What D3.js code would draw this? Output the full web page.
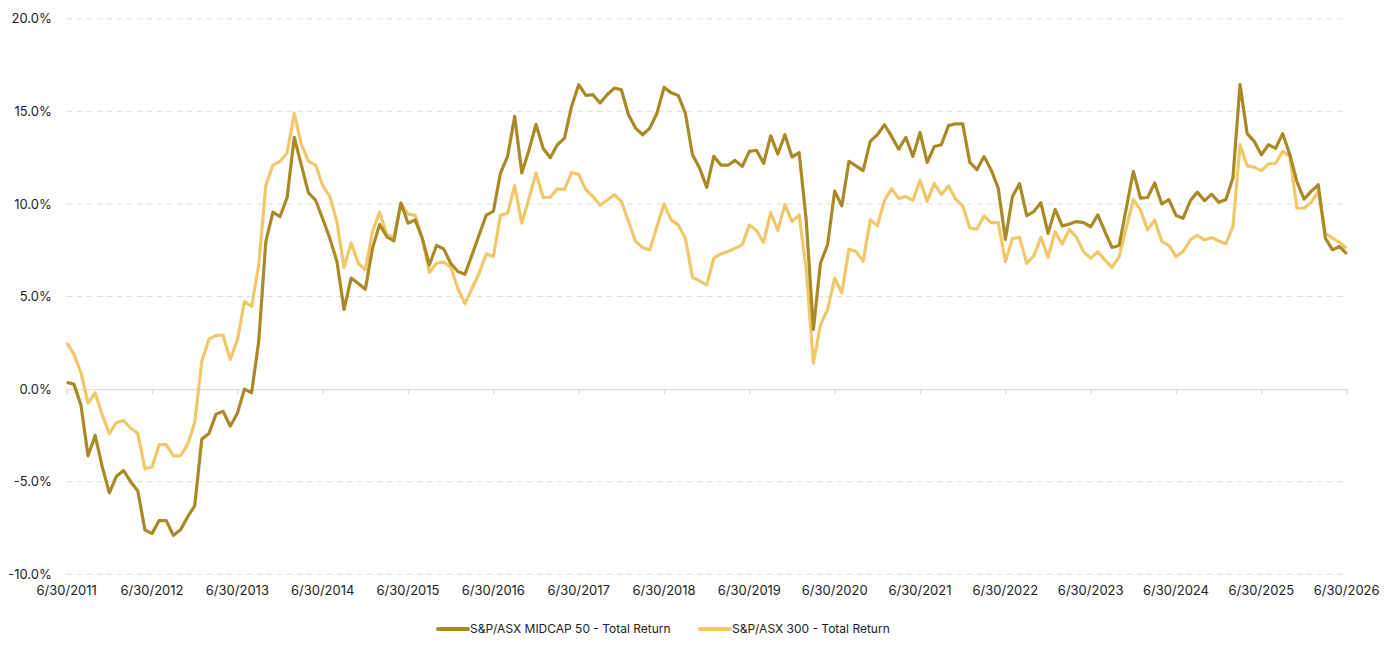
<!DOCTYPE html>
<html lang="en">
    <head>
        <meta charset="utf-8">
        <title>S&amp;P/ASX rolling return</title>
        <script src="https://cdn.jsdelivr.net/npm/d3@7/dist/d3.min.js" charset="utf-8"></script>
        <style type="text/css">
            body { margin: 0; background: #fff; }
            #chart { width: 1400px; height: 656px; }
            text { font-family: Inter, "Noto Sans", sans-serif; fill: #222; }
        </style>
    </head>
    <body>
        <div id="chart"></div>
        <script>
            // Etiquetas del eje x (una por año)
            var tickLabels = ["6/30/2011", "6/30/2012", "6/30/2013", "6/30/2014", "6/30/2015",
                "6/30/2016", "6/30/2017", "6/30/2018", "6/30/2019", "6/30/2020", "6/30/2021",
                "6/30/2022", "6/30/2023", "6/30/2024", "6/30/2025", "6/30/2026"];

            var yTicks = [-10, -5, 0, 5, 10, 15, 20];

            var seriesNames = ["S&P/ASX MIDCAP 50 - Total Return", "S&P/ASX 300 - Total Return"];

            // Valores mensuales (%)
            var midcap = [
                0.36, 0.27, -0.85, -3.6, -2.5, -4.2, -5.6, -4.7, -4.4, -5.0, -5.5, -7.6,
                -7.8, -7.1, -7.1, -7.9, -7.6, -6.9, -6.3, -2.7, -2.4, -1.35, -1.2, -2.0,
                -1.3, 0.0, -0.2, 2.57, 7.97, 9.56, 9.32, 10.35, 13.6, 12.1, 10.6, 10.2,
                9.2, 8.15, 6.9, 4.3, 6.0, 5.7, 5.4, 7.6, 8.9, 8.24, 8.0, 10.05,
                8.96, 9.14, 8.15, 6.7, 7.76, 7.58, 6.8, 6.35, 6.2, 7.25, 8.33, 9.4,
                9.6, 11.67, 12.57, 14.73, 11.67, 12.9, 14.3, 13.0, 12.5, 13.2, 13.56, 15.27,
                16.44, 15.86, 15.9, 15.45, 15.9, 16.26, 16.17, 14.82, 14.1, 13.74, 14.1, 14.9,
                16.3, 16.0, 15.86, 14.9, 12.66, 11.94, 10.9, 12.57, 12.1, 12.1, 12.35, 12.03,
                12.84, 12.9, 12.2, 13.68, 12.7, 13.74, 12.53, 12.78, 9.1, 3.23, 6.8, 7.8,
                10.7, 9.9, 12.3, 12.06, 11.8, 13.38, 13.74, 14.28, 13.65, 12.96, 13.6, 12.57,
                13.86, 12.24, 13.1, 13.2, 14.23, 14.33, 14.33, 12.24, 11.85, 12.56, 11.84, 10.85,
                8.09, 10.4, 11.1, 9.37, 9.59, 10.07, 8.41, 9.71, 8.81, 8.92, 9.05, 8.99,
                8.77, 9.41, 8.51, 7.65, 7.76, 9.77, 11.76, 10.32, 10.35, 11.13, 10.0, 10.23,
                9.38, 9.23, 10.17, 10.64, 10.17, 10.53, 10.1, 10.23, 11.4, 16.45, 13.8, 13.38,
                12.66, 13.2, 13.0, 13.8, 12.66, 11.2, 10.26, 10.68, 11.04, 8.15, 7.52, 7.7,
                7.3
            ];

            var asx300 = [
                2.5, 1.9, 0.9, -0.75, -0.2, -1.4, -2.4, -1.8, -1.7, -2.1, -2.4, -4.3,
                -4.2, -3.0, -3.0, -3.6, -3.6, -3.0, -1.8, 1.5, 2.7, 2.9, 2.9, 1.6,
                2.66, 4.73, 4.46, 6.7, 11.0, 12.1, 12.3, 12.75, 14.9, 13.2, 12.3, 12.1,
                11.0, 10.4, 9.05, 6.57, 7.9, 6.8, 6.44, 8.5, 9.56, 8.37, 8.2, 10.05,
                9.45, 9.4, 8.15, 6.3, 6.8, 6.86, 6.6, 5.45, 4.6, 5.45, 6.26, 7.3,
                7.16, 9.4, 9.5, 11.0, 8.96, 10.3, 11.67, 10.35, 10.35, 10.82, 10.77, 11.7,
                11.6, 10.77, 10.4, 9.93, 10.2, 10.5, 10.14, 9.05, 7.97, 7.65, 7.52, 8.78,
                10.0, 9.14, 8.87, 8.15, 6.03, 5.85, 5.63, 7.07, 7.3, 7.43, 7.6, 7.8,
                8.87, 8.57, 7.92, 9.54, 8.57, 9.96, 9.05, 9.41, 6.44, 1.4, 3.47, 4.3,
                5.99, 5.2, 7.56, 7.43, 6.9, 9.14, 8.82, 10.19, 10.82, 10.3, 10.4, 10.2,
                11.27, 10.14, 11.1, 10.5, 10.98, 10.26, 9.9, 8.7, 8.64, 9.35, 8.99, 8.99,
                6.88, 8.14, 8.2, 6.79, 7.19, 8.2, 7.12, 8.5, 7.84, 8.63, 8.2, 7.42,
                7.06, 7.42, 6.98, 6.57, 7.16, 8.69, 10.23, 9.68, 8.6, 9.14, 7.97, 7.76,
                7.16, 7.43, 8.06, 8.3, 8.06, 8.19, 8.0, 7.85, 8.78, 13.2, 12.06, 11.99,
                11.8, 12.17, 12.2, 12.84, 12.57, 9.77, 9.77, 10.08, 10.68, 8.42, 8.15, 7.92,
                7.61
            ];

            var colors = ["#a98a26", "#f0c86a"];

            // Variables
            var margin = { top: 18.8, right: 53.3, bottom: 81.7, left: 66.7 };
            var width = 1400 - margin.left - margin.right,
                height = 656 - margin.top - margin.bottom;

            var svg = d3.select("#chart").append("svg")
                .attr("width", 1400)
                .attr("height", 656)
                .append("g")
                .attr("transform", "translate(" + margin.left + "," + margin.top + ")");

            // Eje x: un punto por mes
            var x = d3.scaleLinear()
                .domain([0, midcap.length - 1])
                .range([0, width]);

            var y = d3.scaleLinear()
                .domain([-10, 20])
                .range([height, 0]);

            // Grilla
            svg.selectAll(".grid")
                .data(yTicks.filter(function(d) { return d !== 0; }))
                .enter()
                .append("line")
                .attr("class", "grid")
                .attr("x1", 0)
                .attr("x2", width)
                .attr("y1", function(d) { return y(d); })
                .attr("y2", function(d) { return y(d); })
                .style("stroke", "#dedede")
                .style("stroke-width", 1)
                .style("stroke-dasharray", "6,4");

            // Eje y
            var yAxis = d3.axisLeft(y)
                .tickValues(yTicks)
                .tickSize(0)
                .tickPadding(15)
                .tickFormat(function(d) { return d.toFixed(1) + "%"; });

            var gy = svg.append("g").call(yAxis);
            gy.select(".domain").remove();
            gy.selectAll("text")
                .style("font-size", "13px")
                .style("font-family", "Inter, 'Noto Sans', sans-serif")
                .style("fill", "#222");

            // Eje x en el 0%
            var xTickValues = tickLabels.map(function(d, i) { return i * 12; });
            var xAxis = d3.axisBottom(x)
                .tickValues(xTickValues)
                .tickSize(5)
                .tickFormat("");

            var gx = svg.append("g")
                .attr("transform", "translate(0," + y(0) + ")")
                .call(xAxis);
            gx.select(".domain").style("stroke", "#dcdcdc").style("stroke-width", 1.3);
            gx.selectAll(".tick line").style("stroke", "#dcdcdc").style("stroke-width", 1.3);

            // Etiquetas al pie
            svg.selectAll(".xlabel")
                .data(xTickValues)
                .enter()
                .append("text")
                .attr("class", "xlabel")
                .attr("x", function(d) { return x(d); })
                .attr("y", height + 21)
                .style("text-anchor", "middle")
                .style("font-size", "13px")
                .text(function(d, i) { return tickLabels[i]; });

            // Lineas
            var line = d3.line()
                .x(function(d, i) { return x(i); })
                .y(function(d) { return y(d); });

            [asx300, midcap].forEach(function(serie, k) {
                svg.append("path")
                    .datum(serie)
                    .attr("d", line)
                    .style("fill", "none")
                    .style("stroke", colors[1 - k])
                    .style("stroke-width", 3.2)
                    .style("stroke-linejoin", "round");
            });

            // Leyenda
            var leyenda = d3.select("svg").append("g")
                .attr("transform", "translate(0,629)");

            var legendX = [438, 700];
            seriesNames.forEach(function(name, i) {
                var g = leyenda.append("g")
                    .attr("transform", "translate(" + legendX[i] + ",0)");
                g.append("line")
                    .attr("x1", 0)
                    .attr("x2", 30)
                    .style("stroke", colors[i])
                    .style("stroke-width", 4)
                    .style("stroke-linecap", "round");
                g.append("text")
                    .attr("x", 32)
                    .attr("dy", "0.35em")
                    .style("font-size", "12px")
                    .text(name);
            });
        </script>
    </body>
</html>
